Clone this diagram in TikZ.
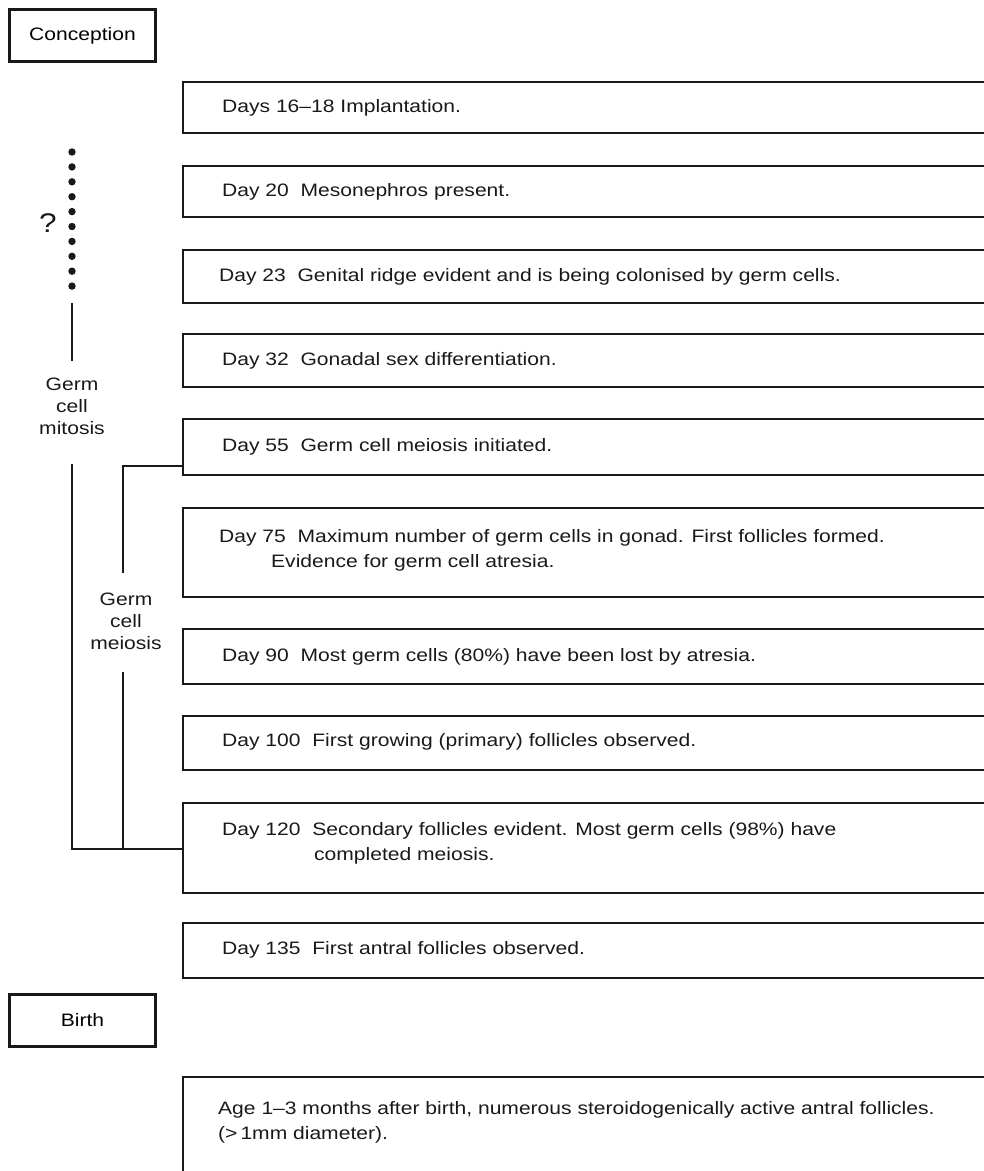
\documentclass[tikz,border=0pt]{standalone}
\usepackage{fontspec}
\setmainfont{Liberation Sans}[FakeStretch=1.17]
\newcommand\openbox[3]{%
  \node[evbox, minimum height={#3-#2}] (#1) at (583.5,{(#2+#3)/2}) {};
  \draw[frame] (#1.north east) -- (#1.north west) -- (#1.south west) -- (#1.south east);}
\begin{document}
\begin{tikzpicture}[x=1pt,y=-1pt,
  lab/.style={inner sep=0pt, anchor=west, font=\fontsize{18}{25}\selectfont, align=left, text=black!90},
  sidelab/.style={inner sep=0pt, font=\fontsize{18}{22}\selectfont, align=center, text=black!90},
  frame/.style={line width=1.8pt, black!90},
  evbox/.style={draw=none, inner sep=0pt, minimum width=801pt},
  stage/.style={draw=black!90, line width=2.6pt, inner sep=0pt, minimum width=146pt, minimum height=52pt, font=\fontsize{18}{22}\selectfont},
  conn/.style={line width=1.5pt, black!90},
  dotnode/.style={circle, fill=black!90, inner sep=0pt, minimum size=7.4pt}]
\useasboundingbox (0,0) rectangle (984,1171);
% stage boxes
\node[stage] (conc) at (82.5,35.5) {Conception};
\node[stage] (birth) at (82.5,1020.5) {Birth};
% event boxes (open at the right)
\openbox{b1}{82}{133}
\openbox{b2}{166}{217}
\openbox{b3}{250}{303}
\openbox{b4}{334}{387}
\openbox{b5}{419}{475}
\openbox{b6}{508}{597}
\openbox{b7}{629}{684}
\openbox{b8}{716}{770}
\openbox{b9}{803}{893}
\openbox{b10}{923}{978}
\node[evbox, minimum height=120] (b11) at (583.5,1137) {};
\draw[frame] (b11.north east) -- (b11.north west) -- (b11.south west);
% texts
\node[lab] (t1) at (222,108) {Days 16--18 Implantation.};
\node[lab] (t2) at (222,192) {Day 20\ \ Mesonephros present.};
\node[lab] (t3) at (219,277) {Day 23\ \ Genital ridge evident and is being colonised by germ cells.};
\node[lab] (t4) at (222,361) {Day 32\ \ Gonadal sex differentiation.};
\node[lab] (t5) at (222,447) {Day 55\ \ Germ cell meiosis initiated.};
\node[lab] (t6) at (219,550) {Day 75\ \ Maximum number of germ cells in gonad. First follicles formed.\\\hspace{52pt}Evidence for germ cell atresia.};
\node[lab] (t7) at (222,657) {Day 90\ \ Most germ cells (80\%) have been lost by atresia.};
\node[lab] (t8) at (222,742) {Day 100\ \ First growing (primary) follicles observed.};
\node[lab] (t9) at (222,843) {Day 120\ \ Secondary follicles evident. Most germ cells (98\%) have\\\hspace{92pt}completed meiosis.};
\node[lab] (t10) at (222,950) {Day 135\ \ First antral follicles observed.};
\node[lab] (t11) at (218,1122) {Age 1--3 months after birth, numerous steroidogenically active antral follicles.\\(>\,1mm diameter).};
% dotted uncertain period
\foreach \i in {0,...,9} \node[dotnode] (d\i) at (72,{152+\i*14.9}) {};
\node[inner sep=0pt, font=\fontsize{27}{29}\selectfont, text=black!90] (q) at (48,223) {?};
% germ cell mitosis
\node[sidelab] (mit) at (72,406) {Germ\\cell\\mitosis};
\coordinate (m1) at (72,303);
\coordinate (m2) at (72,361);
\coordinate (m3) at (72,464);
\coordinate (m4) at (72,849);
\draw[conn] (m1) -- (m2);
\draw[conn] (m3) -- (m4) -- (b9.west |- m4);
% germ cell meiosis
\node[sidelab] (mei) at (126,621) {Germ\\cell\\meiosis};
\coordinate (e1) at (123,466);
\coordinate (e2) at (123,573);
\coordinate (e3) at (123,672);
\coordinate (e4) at (123,849);
\draw[conn] (b5.west |- e1) -- (e1) -- (e2);
\draw[conn] (e3) -- (e4);
\end{tikzpicture}
\end{document}
